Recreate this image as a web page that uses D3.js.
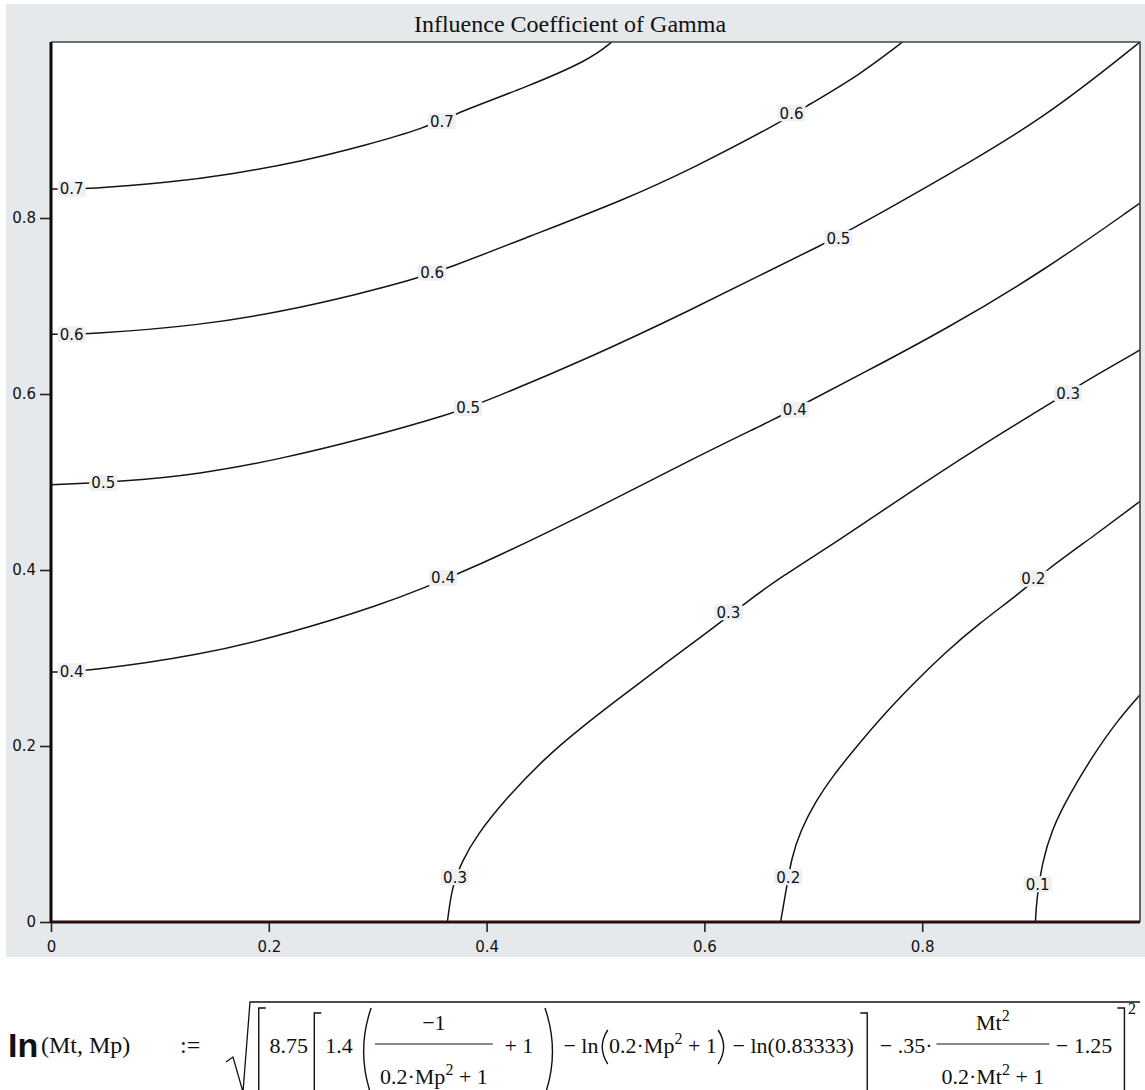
<!DOCTYPE html>
<html>
<head>
<meta charset="utf-8">
<script src="https://cdn.jsdelivr.net/npm/d3@7"></script>
<style>
  html, body { margin: 0; padding: 0; background: #ffffff; }
  svg { display: block; }
</style>
</head>
<body>
<script>
// ---- chart data ---------------------------------------------------------
const chartTitle = "Influence Coefficient of Gamma";
const xTicks = [0, 0.2, 0.4, 0.6, 0.8];
const yTicks = [0, 0.2, 0.4, 0.6, 0.8];
const levels = [0.7, 0.6, 0.5, 0.4, 0.3, 0.2, 0.1];

// contour traces, [Mt, Mp] pairs
const contour07 = [[0,0.833],[0.036,0.833],[0.107,0.840],[0.167,0.850],[0.229,0.864],[0.290,0.883],
  [0.343,0.902],[0.374,0.920],[0.437,0.949],[0.495,0.980],[0.515,1.0]];
const contour06 = [[0,0.668],[0.036,0.668],[0.137,0.678],[0.210,0.693],[0.284,0.714],[0.332,0.730],
  [0.365,0.743],[0.437,0.778],[0.529,0.822],[0.590,0.857],[0.663,0.904],[0.695,0.928],[0.743,0.963],[0.782,1.0]];
const contour05 = [[0,0.497],[0.063,0.500],[0.137,0.509],[0.210,0.526],[0.284,0.548],[0.369,0.578],
  [0.400,0.592],[0.498,0.643],[0.590,0.697],[0.651,0.735],[0.709,0.770],[0.738,0.789],[0.821,0.847],
  [0.913,0.914],[1.0,1.0]];
const contour04 = [[0,0.284],[0.033,0.285],[0.137,0.303],[0.219,0.328],[0.302,0.360],[0.345,0.381],
  [0.374,0.396],[0.406,0.413],[0.498,0.468],[0.590,0.527],[0.667,0.573],[0.695,0.591],[0.743,0.622],
  [0.821,0.673],[0.913,0.741],[1.0,0.817]];
const contour03 = [[0.364,0],[0.368,0.039],[0.377,0.068],[0.391,0.099],[0.419,0.142],[0.455,0.188],
  [0.486,0.220],[0.516,0.249],[0.562,0.292],[0.608,0.334],[0.637,0.362],[0.669,0.391],[0.725,0.435],
  [0.781,0.482],[0.851,0.539],[0.920,0.591],[0.949,0.614],[1.0,0.650]];
const contour02 = [[0.670,0],[0.675,0.036],[0.680,0.073],[0.688,0.103],[0.702,0.137],[0.718,0.166],
  [0.735,0.192],[0.759,0.228],[0.791,0.270],[0.821,0.306],[0.851,0.338],[0.892,0.376],[0.913,0.399],
  [0.959,0.440],[1.0,0.478]];
const contour01 = [[0.904,0],[0.905,0.025],[0.910,0.067],[0.919,0.105],[0.934,0.142],[0.956,0.188],
  [0.980,0.230],[1.0,0.258]];

// where each level is labelled on its trace
const labels07 = [[0.019,0.833],[0.359,0.910]];
const labels06 = [[0.019,0.668],[0.350,0.738],[0.680,0.919]];
const labels05 = [[0.048,0.499],[0.383,0.584],[0.723,0.777]];
const labels04 = [[0.019,0.285],[0.360,0.391],[0.683,0.582]];
const labels03 = [[0.371,0.051],[0.622,0.352],[0.934,0.601]];
const labels02 = [[0.677,0.051],[0.902,0.390]];
const labels01 = [[0.906,0.043]];

const traces = [contour07, contour06, contour05, contour04, contour03, contour02, contour01];
const traceLabels = [labels07, labels06, labels05, labels04, labels03, labels02, labels01];

// ---- layout -------------------------------------------------------------
const W = 1145, H = 1090;
const plot = { left: 51, right: 1140, top: 42, bottom: 922 };
const panelBg = "#e6e9ec";

const x = d3.scaleLinear().domain([0, 1]).range([plot.left, plot.right]);
const y = d3.scaleLinear().domain([0, 1]).range([plot.bottom, plot.top]);

const svg = d3.select("body").append("svg")
  .attr("width", W).attr("height", H)
  .attr("viewBox", `0 0 ${W} ${H}`);

// grey panel behind the graph region
svg.append("rect")
  .attr("x", 6).attr("y", 4).attr("width", W - 6).attr("height", 953)
  .attr("fill", panelBg);

// white plotting area
svg.append("rect")
  .attr("x", plot.left).attr("y", plot.top)
  .attr("width", plot.right - plot.left).attr("height", plot.bottom - plot.top)
  .attr("fill", "#ffffff");

// title
svg.append("text")
  .attr("x", 570).attr("y", 32)
  .attr("text-anchor", "middle")
  .attr("font-family", "'Liberation Serif', 'Times New Roman', serif")
  .attr("font-size", 24)
  .attr("fill", "#111")
  .text(chartTitle);

// ---- contour lines ------------------------------------------------------
svg.append("clipPath").attr("id", "plot-clip")
  .append("rect")
  .attr("x", plot.left).attr("y", plot.top)
  .attr("width", plot.right - plot.left).attr("height", plot.bottom - plot.top);

const line = d3.line()
  .x(d => x(d[0]))
  .y(d => y(d[1]))
  .curve(d3.curveBasis);

const gLines = svg.append("g").attr("clip-path", "url(#plot-clip)");
gLines.selectAll("path.contour")
  .data(traces)
  .join("path")
  .attr("class", "contour")
  .attr("d", line)
  .attr("fill", "none")
  .attr("stroke", "#141414")
  .attr("stroke-width", 1.5);

// level labels sitting on the traces
const labelFont = "'DejaVu Sans', Verdana, sans-serif";
const labelData = [];
traceLabels.forEach((pts, i) => pts.forEach(p => labelData.push({ level: levels[i], p })));

const gLab = svg.append("g");
const lab = gLab.selectAll("g.lab").data(labelData).join("g")
  .attr("class", "lab")
  .attr("transform", d => `translate(${x(d.p[0])},${y(d.p[1])})`);
lab.append("rect")
  .attr("x", -14).attr("y", -8).attr("width", 28).attr("height", 16)
  .attr("fill", "#eef0f2");
lab.append("text")
  .attr("text-anchor", "middle")
  .attr("dy", "0.36em")
  .attr("font-family", labelFont)
  .attr("font-size", 15)
  .attr("fill", "#111")
  .text(d => d3.format(".1f")(d.level));

// ---- frame and axes -----------------------------------------------------
// top and right edges
svg.append("path")
  .attr("d", `M${plot.left},${plot.top}H${plot.right}V${plot.bottom}`)
  .attr("fill", "none").attr("stroke", "#444").attr("stroke-width", 1.6);

const tickFmt = d => d === 0 ? "0" : d3.format(".1f")(d);

const yAxis = svg.append("g")
  .attr("transform", `translate(${plot.left},0)`)
  .call(d3.axisLeft(y).tickValues(yTicks).tickSize(11).tickPadding(4).tickFormat(tickFmt));
const xAxis = svg.append("g")
  .attr("transform", `translate(0,${plot.bottom})`)
  .call(d3.axisBottom(x).tickValues(xTicks).tickSize(10).tickPadding(9).tickFormat(tickFmt));

[xAxis, yAxis].forEach(a => {
  a.select(".domain").remove();
  a.selectAll(".tick line").attr("stroke", "#222").attr("stroke-width", 1.6);
  a.selectAll(".tick text")
    .attr("font-family", labelFont)
    .attr("font-size", 15)
    .attr("fill", "#111");
});

// heavy left and bottom axis lines
svg.append("line")
  .attr("x1", plot.left).attr("x2", plot.left)
  .attr("y1", plot.top).attr("y2", plot.bottom + 1)
  .attr("stroke", "#0a0a0a").attr("stroke-width", 3);
svg.append("line")
  .attr("x1", plot.left).attr("x2", plot.right)
  .attr("y1", plot.bottom).attr("y2", plot.bottom)
  .attr("stroke", "#2b0c0c").attr("stroke-width", 3);

// ---- defining expression below the graph -------------------------------
const serif = "'Liberation Serif', 'Times New Roman', serif";
const fg = svg.append("g").attr("fill", "#111").attr("font-family", serif).attr("font-size", 22);
const base = 1053, numBase = 1030, denBase = 1084, barY = 1044, overY = 1002;

function makeText(parts, yy, anchor) {
  const t = fg.append("text").attr("y", yy);
  if (anchor) t.attr("text-anchor", anchor);
  let raised = false;
  parts.forEach(([s, up]) => {
    const sp = t.append("tspan").text(s);
    if (up && !raised) { sp.attr("dy", -9).attr("font-size", 16); raised = true; }
    else if (!up && raised) { sp.attr("dy", 9); raised = false; }
  });
  return t;
}
function stroke(d, w = 1.3) {
  fg.append("path").attr("d", d).attr("fill", "none").attr("stroke", "#111").attr("stroke-width", w);
}

// function name and definition sign
makeText([["In"]], 1057).attr("x", 8)
  .attr("font-family", "'Liberation Sans', Arial, sans-serif")
  .attr("font-weight", "bold").attr("font-size", 34);
makeText([["(Mt, Mp)"]], base).attr("x", 41).attr("font-size", 24);
makeText([[":="]], base).attr("x", 180).attr("font-size", 24);

// right-hand side: laid out left to right from measured widths, with the
// spare room shared out between the items (g = share of the spacing)
const left = 226, right = 1136;
const expr = [
  { k: "radical", w: 24, g: 0 },
  { k: "delim", shape: "[", size: "tall", w: 8, g: 0.6 },
  { k: "text", s: [["8.75"]], g: 0.3 },
  { k: "delim", shape: "[", size: "mid", w: 8, g: 0.4 },
  { k: "text", s: [["1.4"]], g: 0.3 },
  { k: "delim", shape: "(", size: "tall", w: 12, g: 0.5 },
  { k: "frac", num: [["\u22121"]], den: [["0.2\u00b7Mp"], ["2", 1], [" + 1"]], g: 0.3 },
  { k: "text", s: [["+ 1"]], g: 0.9 },
  { k: "delim", shape: ")", size: "tall", w: 12, g: 0.9 },
  { k: "text", s: [["\u2212 ln"]], g: 0.5 },
  { k: "delim", shape: "(", size: "small", w: 8, g: 0.1 },
  { k: "text", s: [["0.2\u00b7Mp"], ["2", 1], [" + 1"]], g: 0.1 },
  { k: "delim", shape: ")", size: "small", w: 8, g: 0.1 },
  { k: "text", s: [["\u2212 ln(0.83333)"]], g: 0.5 },
  { k: "delim", shape: "]", size: "mid", w: 8, g: 0.5 },
  { k: "text", s: [["\u2212 .35\u00b7"]], g: 0.9 },
  { k: "frac", num: [["Mt"], ["2", 1]], den: [["0.2\u00b7Mt"], ["2", 1], [" + 1"]], g: 0.3 },
  { k: "text", s: [["\u2212 1.25"]], g: 0.5 },
  { k: "delim", shape: "]", size: "tall", w: 8, g: 0.4 },
  { k: "sup2", g: 0.2 }
];

// measure
expr.forEach(it => {
  if (it.k === "text") {
    it.node = makeText(it.s, base);
    it.w = it.node.node().getComputedTextLength();
  } else if (it.k === "frac") {
    it.nNode = makeText(it.num, numBase, "middle");
    it.dNode = makeText(it.den, denBase, "middle");
    it.w = Math.max(it.nNode.node().getComputedTextLength(), it.dNode.node().getComputedTextLength()) + 10;
  } else if (it.k === "sup2") {
    it.node = fg.append("text").attr("y", 1014).attr("font-size", 16).text("2");
    it.w = it.node.node().getComputedTextLength();
  }
});
const natural = d3.sum(expr, d => d.w);
const weight = d3.sum(expr, d => d.g);
const unit = Math.max(0, (right - left - natural) / weight);

// place
let cx = left;
expr.forEach(it => {
  cx += it.g * unit;
  const x0 = cx, x1 = cx + it.w;
  if (it.k === "text" || it.k === "sup2") it.node.attr("x", x0);
  else if (it.k === "frac") {
    const mid = (x0 + x1) / 2;
    it.nNode.attr("x", mid);
    it.dNode.attr("x", mid);
    stroke(`M${x0},${barY}H${x1}`, 1.2);
  } else if (it.k === "radical") {
    stroke(`M${x0},${1062}L${x0 + 7},${1057}L${x0 + 17},${1092}L${x1},${overY}L${1140},${overY}`, 1.3);
  } else if (it.k === "delim") {
    const [t, b] = it.size === "tall" ? [1008, 1095] : it.size === "mid" ? [1013, 1095] : [1030, 1064];
    const m = (t + b) / 2;
    if (it.shape === "[") stroke(`M${x1},${t}H${x0 + 1}V${b}`, 1.4);
    if (it.shape === "]") stroke(`M${x0},${t}H${x1 - 1}V${b}`, 1.4);
    if (it.shape === "(") stroke(`M${x1},${t}Q${x0 - 3},${m} ${x1},${b}`, 1.4);
    if (it.shape === ")") stroke(`M${x0},${t}Q${x1 + 3},${m} ${x0},${b}`, 1.4);
  }
  cx = x1;
});
</script>
</body>
</html>
